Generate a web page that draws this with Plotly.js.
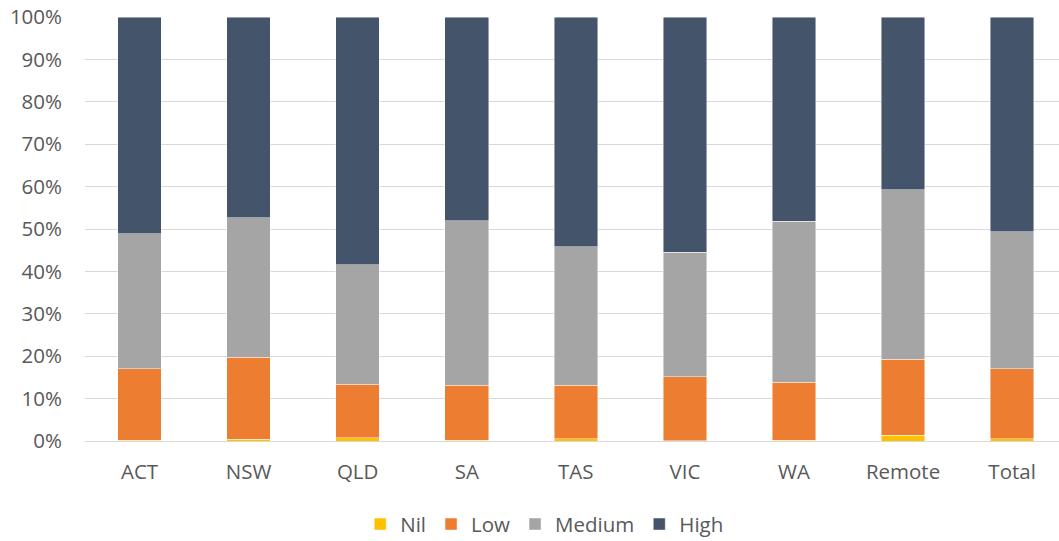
<!DOCTYPE html>
<html>
<head>
<meta charset="utf-8">
<script src="https://cdn.plot.ly/plotly-3.0.1.min.js"></script>
<style>
  html, body { margin: 0; padding: 0; background: #ffffff; }
  #chart { width: 1059px; height: 541px; }
</style>
</head>
<body>
<div id="chart"></div>
<script>
// Share of responses by level, per jurisdiction (percent)
const categories = ["ACT", "NSW", "QLD", "SA", "TAS", "VIC", "WA", "Remote", "Total"];
const nilValues    = [0.2, 0.4, 0.8, 0.2, 0.5, 0.1, 0.2, 1.4, 0.5];
const lowValues    = [16.9, 19.4, 12.6, 13.0, 12.6, 15.1, 13.7, 17.9, 16.5];
const mediumValues = [31.8, 32.8, 28.2, 38.7, 32.7, 29.3, 37.9, 39.9, 32.4];
const highValues   = [51.1, 47.4, 58.4, 48.1, 54.2, 55.5, 48.2, 40.8, 50.6];
const yTickValues  = [0, 10, 20, 30, 40, 50, 60, 70, 80, 90, 100];
const yTickLabels  = ["0%", "10%", "20%", "30%", "40%", "50%", "60%", "70%", "80%", "90%", "100%"];

const seriesDefs = [
  { name: "Nil",    values: nilValues,    color: "#FFC000" },
  { name: "Low",    values: lowValues,    color: "#ED7D31" },
  { name: "Medium", values: mediumValues, color: "#A5A5A5" },
  { name: "High",   values: highValues,   color: "#44546A" }
];

const textColor = "#595959";
const fontFamily = "'Open Sans', 'Liberation Sans', sans-serif";
const fontSize = 20.5;

const traces = seriesDefs.map(s => ({
  type: "bar",
  name: s.name,
  x: categories,
  y: s.values,
  marker: { color: s.color, line: { color: "rgba(255,255,255,0.6)", width: 0.75 } },
  hoverinfo: "x+y+name"
}));

const layout = {
  width: 1059,
  height: 541,
  barmode: "stack",
  bargap: 0.6,
  paper_bgcolor: "#ffffff",
  plot_bgcolor: "#ffffff",
  margin: { l: 85, r: 0, t: 17, b: 99.5 },
  font: { family: fontFamily, color: textColor, size: fontSize },
  xaxis: {
    type: "category",
    range: [-0.5, 8.43],
    showgrid: false,
    showline: true,
    linecolor: "#D9D9D9",
    linewidth: 1,
    ticks: "",
    ticklabelstandoff: 12,
    tickfont: { family: fontFamily, size: fontSize, color: textColor },
    fixedrange: true
  },
  yaxis: {
    range: [0, 100],
    tickvals: yTickValues,
    ticktext: yTickLabels,
    showgrid: true,
    gridcolor: "#D9D9D9",
    gridwidth: 1,
    zeroline: false,
    showline: false,
    ticks: "",
    ticklabelstandoff: 22,
    tickfont: { family: fontFamily, size: fontSize, color: textColor },
    fixedrange: true
  },
  showlegend: true,
  legend: {
    orientation: "h",
    x: 0.472,
    xanchor: "center",
    yref: "container",
    y: 0.031,
    yanchor: "middle",
    traceorder: "normal",
    font: { family: fontFamily, size: fontSize, color: textColor },
    itemwidth: 30,
    bgcolor: "rgba(0,0,0,0)"
  }
};

Plotly.newPlot("chart", traces, layout, { displayModeBar: false, staticPlot: true });
</script>
</body>
</html>
